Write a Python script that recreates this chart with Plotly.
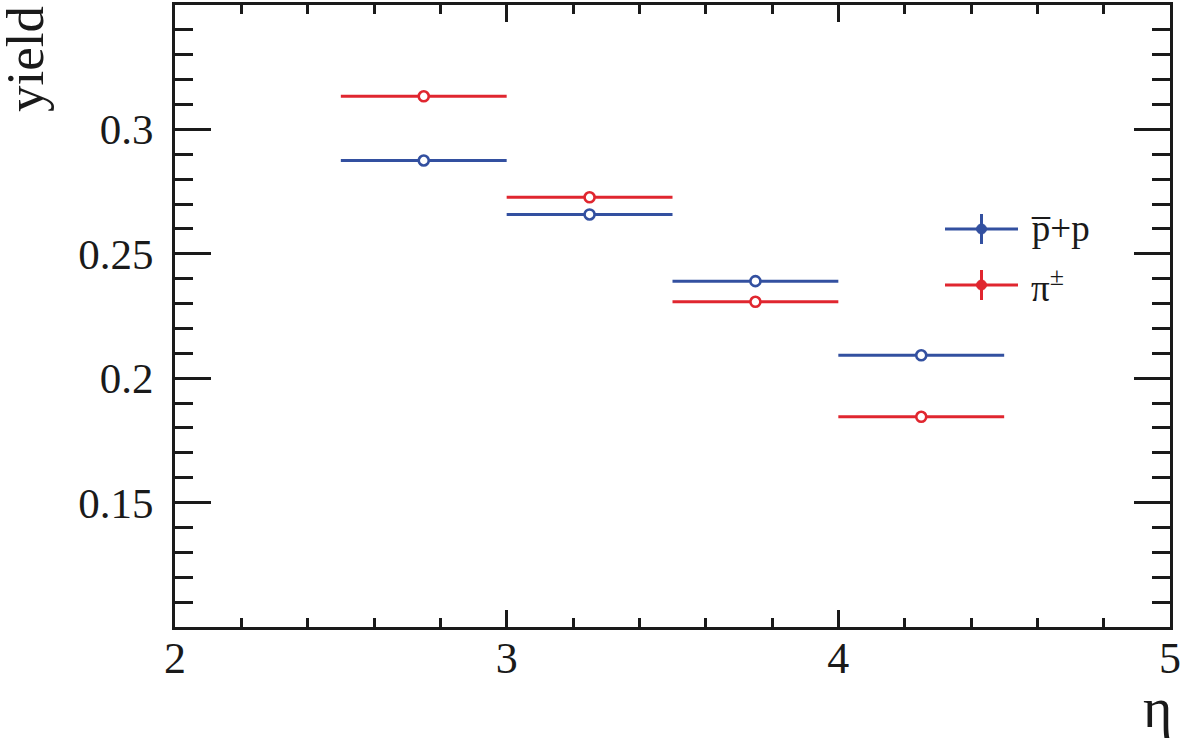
import plotly.graph_objects as go

eta = [2.75, 3.25, 3.75, 4.25]
eta_halfwidth = [0.25, 0.25, 0.25, 0.25]
yield_pbar_p = [0.2875, 0.2658, 0.2390, 0.2092]
yield_pi = [0.3133, 0.2727, 0.2307, 0.1845]

x_ticks = [2, 3, 4, 5]
y_ticks = [0.15, 0.2, 0.25, 0.3]
y_tick_text = ["0.15", "0.2", "0.25", "0.3"]

BLUE = "#3350a0"
RED = "#e0262f"
INK = "#1a1a1a"
FONT = "'Liberation Serif', 'Times New Roman', serif"

fig = go.Figure()
for ys, col, name in [(yield_pbar_p, BLUE, "p̄+p"), (yield_pi, RED, "π±")]:
    fig.add_trace(go.Scatter(
        x=eta, y=ys, mode="markers", name=name, showlegend=False,
        marker=dict(symbol="circle", size=10, color="white", line=dict(color=col, width=2.6)),
        error_x=dict(type="data", array=eta_halfwidth, color=col, thickness=3, width=0),
    ))

axis_common = dict(showline=True, linecolor=INK, linewidth=3, mirror="ticks",
                   ticks="inside", tickcolor=INK, tickwidth=3, showgrid=False,
                   zeroline=False, automargin=False)

fig.update_xaxes(range=[2, 5], tickvals=x_ticks, ticktext=[str(v) for v in x_ticks],
                 ticklen=17, ticklabelstandoff=-10,
                 tickfont=dict(family=FONT, size=44, color=INK),
                 minor=dict(dtick=0.2, tick0=2, ticklen=9, tickwidth=3, tickcolor=INK, ticks="inside", showgrid=False),
                 **axis_common)
fig.update_yaxes(range=[0.1, 0.35], tickvals=y_ticks, ticktext=y_tick_text,
                 ticklen=36, ticklabelstandoff=10,
                 tickfont=dict(family=FONT, size=43, color=INK),
                 minor=dict(dtick=0.01, tick0=0.1, ticklen=18, tickwidth=3, tickcolor=INK, ticks="inside", showgrid=False),
                 **axis_common)

L, R, T, B = 175, 11, 5, 111
W, H = 1181, 738
pw, ph = W - L - R, H - T - B

def px(xp):
    return (xp - L) / pw

def py(yp):
    return (H - B - yp) / ph

shapes = []
annotations = []
legend_items = [("p\u0305+p", BLUE, 229), ("π<sup>±</sup>", RED, 285)]
for label, col, ypix in legend_items:
    yc = py(ypix)
    shapes.append(dict(type="line", xref="paper", yref="paper", x0=px(945), x1=px(1018), y0=yc, y1=yc,
                       line=dict(color=col, width=3)))
    shapes.append(dict(type="line", xref="paper", yref="paper", x0=px(981.5), x1=px(981.5),
                       y0=py(ypix - 15), y1=py(ypix + 15), line=dict(color=col, width=3)))
    shapes.append(dict(type="circle", xref="paper", yref="paper", x0=px(976.5), x1=px(986.5),
                       y0=py(ypix + 5), y1=py(ypix - 5), fillcolor=col, line=dict(color=col, width=1)))
    annotations.append(dict(xref="paper", yref="paper", x=px(1029), y=yc, text=label, showarrow=False,
                            xanchor="left", yanchor="middle", font=dict(family=FONT, size=37, color=INK)))

annotations.append(dict(xref="paper", yref="paper", x=px(-6), y=py(4), text="yield", showarrow=False,
                        textangle=-90, xanchor="left", yanchor="top",
                        font=dict(family=FONT, size=53, color=INK)))
annotations.append(dict(xref="paper", yref="paper", x=px(1174), y=py(741), text="η", showarrow=False,
                        xanchor="right", yanchor="bottom",
                        font=dict(family=FONT, size=56, color=INK)))

fig.update_layout(width=W, height=H, margin=dict(l=L, r=R, t=T, b=B),
                  paper_bgcolor="white", plot_bgcolor="white",
                  shapes=shapes, annotations=annotations, showlegend=False)

fig.write_html("out.html", config={"displayModeBar": False},
               post_script="document.body.style.margin='0';document.body.style.overflow='hidden';")
